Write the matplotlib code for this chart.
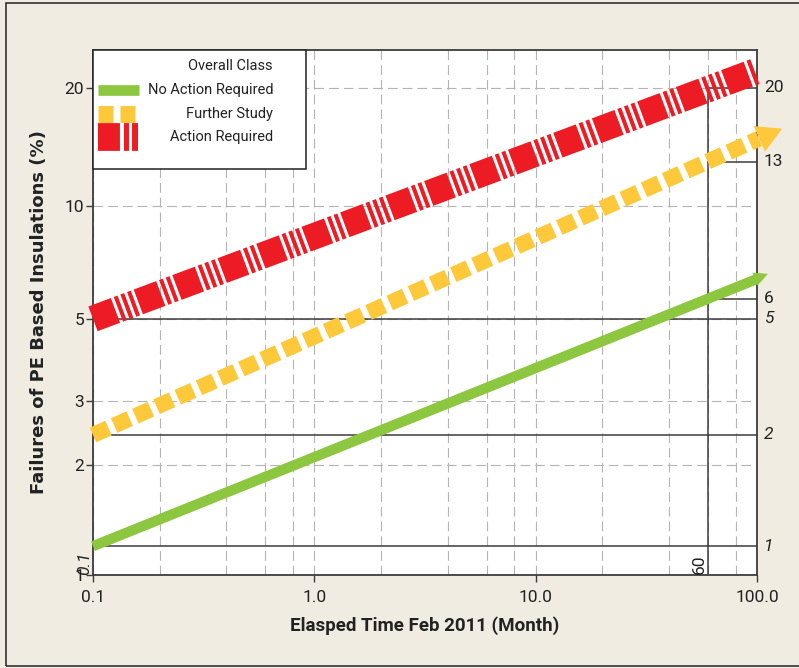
import numpy as np
import matplotlib.pyplot as plt
from matplotlib.patches import Rectangle, FancyArrowPatch, ArrowStyle
from matplotlib.ticker import LogLocator, NullFormatter, NullLocator
from matplotlib.lines import Line2D

plt.rcParams['lines.scale_dashes'] = False
plt.rcParams['font.family'] = ['Roboto', 'DejaVu Sans']

# ---- data ----
# series end points (months, % failed); straight lines on Weibull paper
no_action_months = [0.1, 99]
no_action_pct = [1.2, 6.38]
further_months = [0.1, 102]
further_pct = [2.42, 14.9]
action_months = [0.1, 100]
action_pct = [5.0, 22.0]

# arrow tips of the first two lines
no_action_tip = (112, 6.6)
further_tip = (130, 15.8)

# reference lines at 0.1 month and at 60 months
ref_start_month = 0.1
ref_start_pct = [1.2, 2.42, 5.0]
ref_start_labels = ['1', '2', '5']
ref_end_month = 60
ref_end_pct = [5.66, 13.0, 20.0]
ref_end_labels = ['6', '13', '20']

y_ticks = [1, 2, 3, 5, 10, 20]
x_ticks = [0.1, 1, 10, 100]
x_ticklabels = ['0.1', '1.0', '10.0', '100.0']

GREEN = '#8dc63f'
YELLOW = '#fdc83a'
RED = '#ed1c24'
DARK = '#3c3c3c'


# Weibull probability scale for the y axis
def weib_fwd(p):
    p = np.clip(np.asarray(p, dtype=float), 1e-6, 99.9999)
    return np.log(-np.log(1 - p / 100.0))


def weib_inv(w):
    return 100.0 * (1 - np.exp(-np.exp(np.asarray(w, dtype=float))))


fig = plt.figure(figsize=(7.99, 6.68), dpi=100, facecolor='#f0ece2')
ax = fig.add_axes([93 / 799, 1 - 575 / 668, 664 / 799, 525 / 668])
ax.set_facecolor('white')

ax.set_xscale('log')
ax.set_yscale('function', functions=(weib_fwd, weib_inv))

# grid
grid_kw = dict(color='#b4b4b4', lw=0.8, ls=(0, (7, 3.6)))
ax.xaxis.set_minor_locator(LogLocator(base=10, subs=[2, 4, 6, 8]))
ax.xaxis.set_minor_formatter(NullFormatter())
ax.yaxis.set_minor_locator(NullLocator())
ax.grid(True, which='both', axis='x', **grid_kw)
ax.grid(True, which='major', axis='y', **grid_kw)
ax.set_axisbelow(True)

# reference lines
for v in ref_start_pct:
    ax.plot([0.1, 100], [v, v], color=DARK, lw=1.1, zorder=2)
for v in ref_end_pct:
    ax.plot([ref_end_month, 100], [v, v], color=DARK, lw=1.1, zorder=2)
ax.plot([ref_end_month, ref_end_month], [1, max(ref_end_pct)], color=DARK, lw=1.1, zorder=2)

# series
ax.plot(no_action_months, no_action_pct, color=GREEN, lw=7.4,
        solid_capstyle='butt', clip_on=False, zorder=4)
ax.plot(further_months, further_pct, color=YELLOW, lw=11.5,
        dashes=[12.2, 4.5], dash_capstyle='butt', clip_on=False, zorder=4)
ax.plot(action_months, action_pct, color=RED, lw=19,
        dashes=[17.3, 2.2, 2.9, 2.2, 2.9, 2.2, 2.9, 2.2,
                17.3, 2.2, 2.9, 2.2, 2.9, 2.2],
        dash_capstyle='butt', clip_on=False, zorder=4)

# arrow heads
for start, tip, col, hl, hw in [((no_action_months[0], no_action_pct[0]), no_action_tip, GREEN, 10, 5),
                                ((further_months[0], further_pct[0]), further_tip, YELLOW, 18, 10)]:
    arr = FancyArrowPatch(start, tip, arrowstyle=ArrowStyle('-|>', head_length=hl, head_width=hw),
                          mutation_scale=1, lw=0, color=col, shrinkA=0, shrinkB=0,
                          clip_on=False, zorder=4)
    ax.add_patch(arr)

ax.set_xlim(0.1, 100)
ax.set_ylim(1, 24.7)

ax.set_xticks(x_ticks)
ax.set_xticklabels(x_ticklabels)
ax.set_yticks(y_ticks)
ax.set_yticklabels([str(t) for t in y_ticks])
ax.tick_params(axis='both', which='major', labelsize=12.5, labelcolor='#222',
               color=DARK, length=5, width=1)
ax.tick_params(axis='x', which='major', pad=6)
ax.tick_params(axis='y', which='major', pad=1.5)
ax.tick_params(which='minor', length=0)

for sp in ax.spines.values():
    sp.set_color(DARK)
    sp.set_linewidth(1.3)

# labels on the right for the reference lines
for v, lab in zip(ref_end_pct, ref_end_labels):
    ax.annotate(lab, xy=(1, v), xycoords=('axes fraction', 'data'), xytext=(5, 0),
                textcoords='offset points', va='center', ha='left', fontsize=12.5, color='#222')
for v, lab in zip(ref_start_pct, ref_start_labels):
    ax.annotate(lab, xy=(1, v), xycoords=('axes fraction', 'data'), xytext=(5, 0),
                textcoords='offset points', va='center', ha='left', fontsize=12.5,
                style='italic', color='#222')

# vertical labels at the bottom
ax.annotate('60', xy=(ref_end_month, 0), xycoords=('data', 'axes fraction'), xytext=(-1, 1),
            textcoords='offset points', rotation=90, ha='right', va='bottom', fontsize=12.5, color='#222')
ax.annotate('0.1', xy=(ref_start_month, 0), xycoords=('data', 'axes fraction'), xytext=(-1, 0),
            textcoords='offset points', rotation=90, ha='right', va='bottom', fontsize=12.5,
            style='italic', color='#222', annotation_clip=False)

ax.set_xlabel('Elasped Time Feb 2011 (Month)', fontsize=13.5, fontweight='bold', color='#222', labelpad=8)
ax.set_ylabel('Failures of PE Based Insulations (%)', fontsize=13, fontweight='bold', color='#222',
              family='DejaVu Sans', labelpad=12)

# legend drawn by hand (right-aligned labels)
T = ax.transAxes
ax.add_patch(Rectangle((0, 1 - 119 / 525), 213 / 664, 119 / 525, transform=T, fc='white',
                       ec='#222', lw=1.1, zorder=6, clip_on=False))
ax.text(180 / 664, 1 - 16 / 525, 'Overall Class', transform=T, ha='right', va='center',
        fontsize=10.5, color='#222', zorder=7)
leg_rows = [
    ('No Action Required', GREEN, 7.7, None, 40 / 525, 41),
    ('Further Study', YELLOW, 12.2, [10.8, 5.0], 64 / 525, 37),
    ('Action Required', RED, 20, [15.8, 2.9, 3.6, 2.2, 4.3, 3.0], 87 / 525, 40),
]
for lab, col, lw, dsh, dy, ln in leg_rows:
    kw = dict(color=col, lw=lw, solid_capstyle='butt', dash_capstyle='butt')
    if dsh:
        kw['dashes'] = dsh
    ax.add_line(Line2D([5 / 664, (5 + ln) / 664], [1 - dy, 1 - dy], transform=T,
                       clip_on=False, zorder=7, **kw))
    ax.text(180 / 664, 1 - dy, lab, transform=T, ha='right', va='center',
            fontsize=10.5, color='#222', zorder=7)

# outer frame
fig.add_artist(Rectangle((6 / 799, 2 / 668), 1.0, 1 - 5 / 668, transform=fig.transFigure,
                         fill=False, ec='#222', lw=1.1))

fig.savefig('out.png', dpi=100, facecolor=fig.get_facecolor())
